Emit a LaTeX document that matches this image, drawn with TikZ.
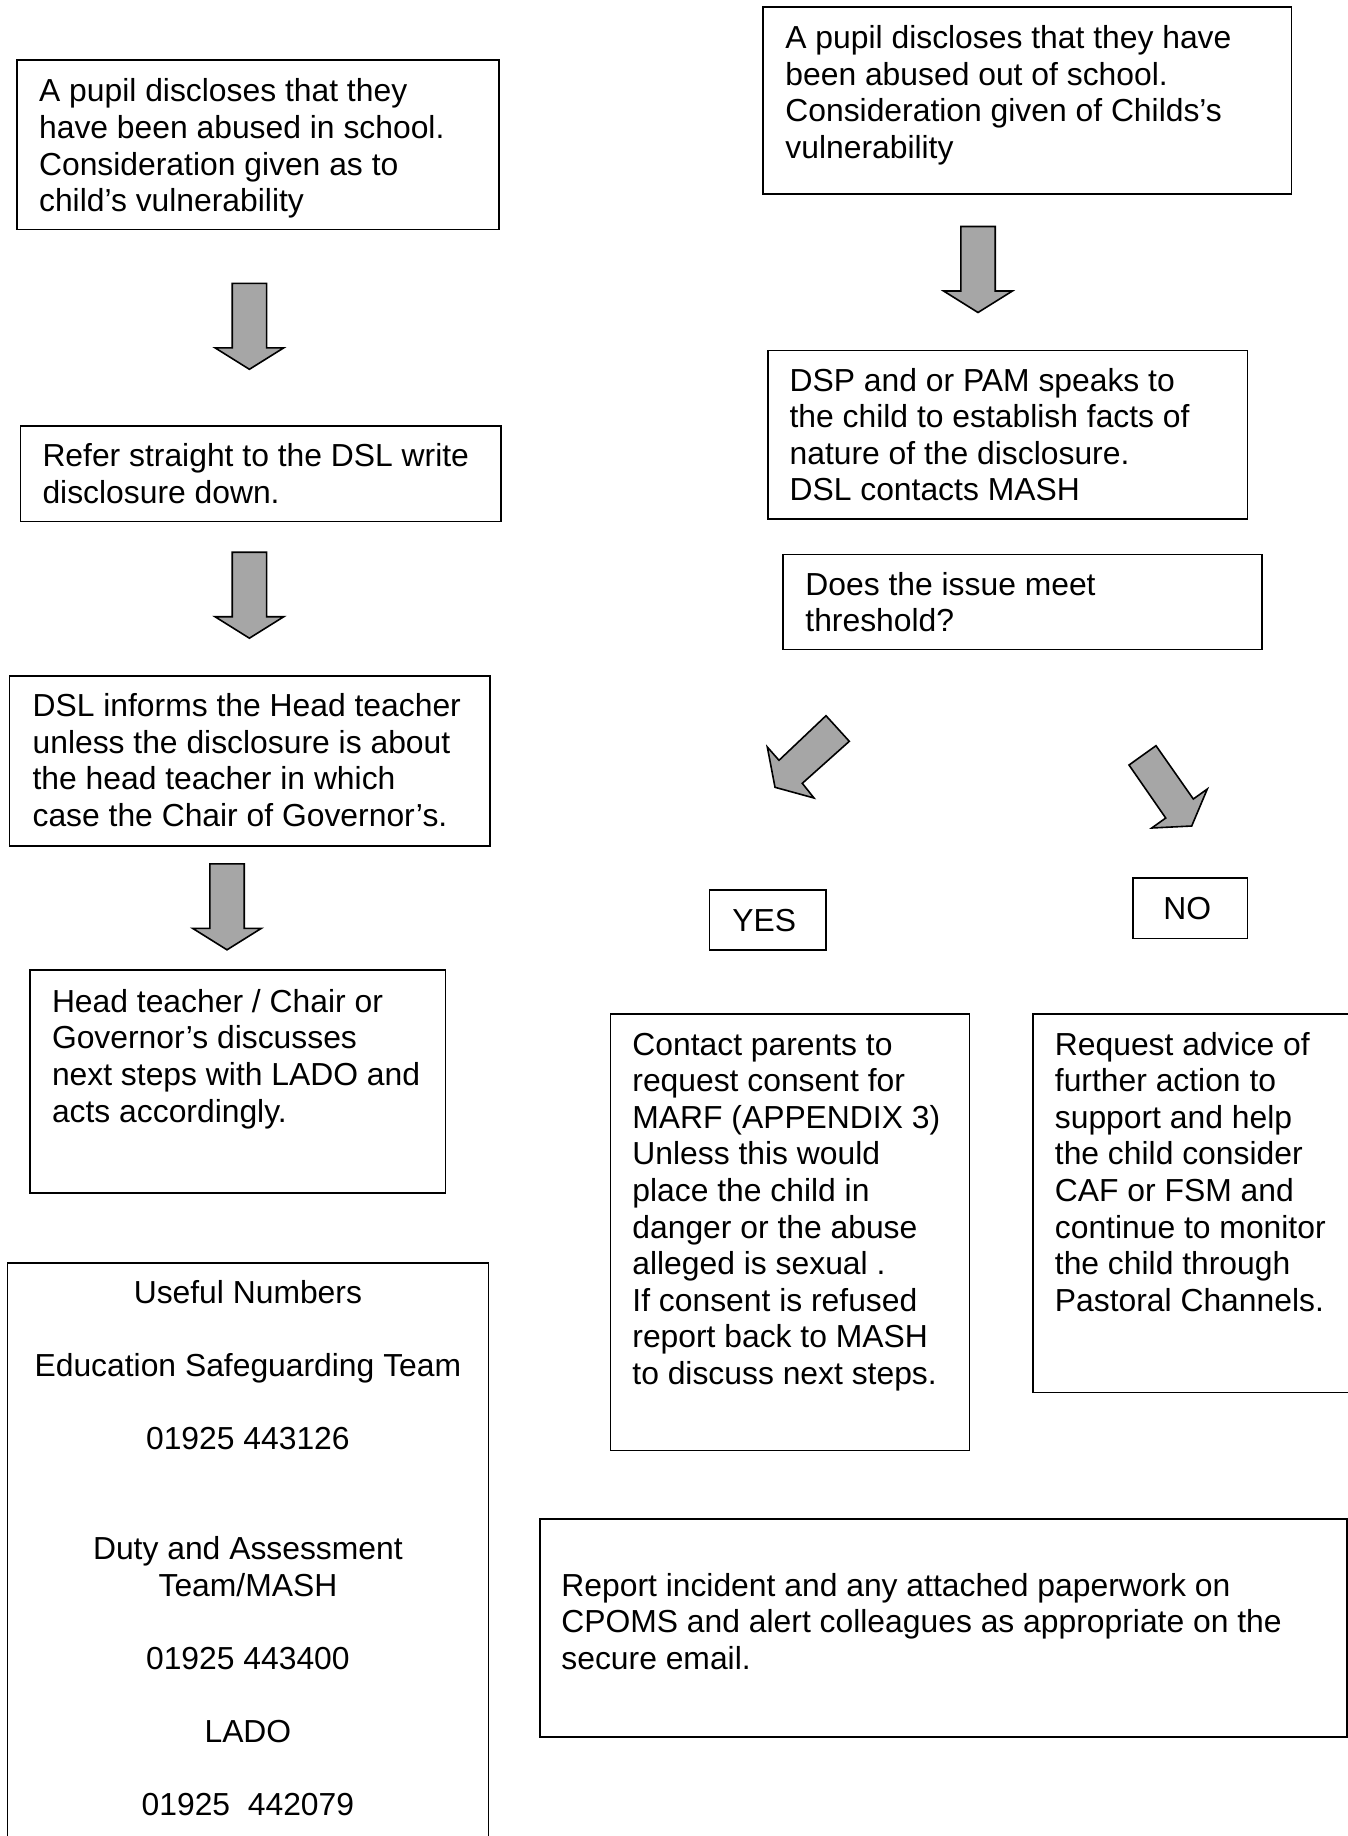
\documentclass[tikz,border=0pt]{standalone}
\usepackage{fontspec}
\setmainfont{Liberation Sans}
\usetikzlibrary{fit}
\definecolor{arrowgray}{RGB}{166,166,166}
\tikzset{
  box/.style={draw=black, line width=0.8pt, inner sep=0pt},
  txt/.style={anchor=north west, inner sep=0pt, align=left, font=\fontsize{15.92pt}{18.3pt}\selectfont},
  ctxt/.style={anchor=north, inner sep=0pt, align=center, font=\fontsize{15.92pt}{18.3pt}\selectfont},
  blockarrow/.style={draw=black, line width=0.8pt, fill=arrowgray, line join=miter},
  downarrow/.pic={
    \draw[blockarrow] (0,0) -- (34.4,-21.5) -- (17.2,-21.5) -- (17.2,-86)
      -- (-17.2,-86) -- (-17.2,-21.5) -- (-34.4,-21.5) -- cycle;
  }
}
\begin{document}
\begin{tikzpicture}[x=0.5pt,y=-0.5pt]
\useasboundingbox (0,0) rectangle (1348,1836);
\clip (0,0) rectangle (1348,1836);

% ---------- left column ----------
\node[box, fit={(17.2,60.1) (498.7,229.6)}] (b1) {};
\node[txt] (t1) at (38.7,75.8) {\strut A pupil discloses that they\\have been abused in school.\\Consideration given as to\\child’s vulnerability};

\pic (a1) at (249.4,369.3) {downarrow};

\node[box, fit={(20.6,426) (500.9,521.6)}] (b2) {};
\node[txt] (t2) at (42.1,440.4) {\strut Refer straight to the DSL write\\disclosure down.};

\pic (a2) at (249.4,638.2) {downarrow};

\node[box, fit={(9.5,676.2) (490.1,845.8)}] (b3) {};
\node[txt] (t3) at (32.2,690.7) {\strut DSL informs the Head teacher\\unless the disclosure is about\\the head teacher in which\\case the Chair of Governor’s.};

\pic (a3) at (227,949.8) {downarrow};

\node[box, fit={(30.1,969.9) (445.4,1192.7)}] (b4) {};
\node[txt] (t4) at (51.6,986.3) {\strut Head teacher / Chair or\\Governor’s discusses\\next steps with LADO and\\acts accordingly.};

\node[box, fit={(7.3,1262.8) (488.4,1900)}] (b5) {};
\node[ctxt] (t5) at (247.9,1277.4) {\strut Useful Numbers\\[18.3pt]Education Safeguarding Team\\[18.3pt]01925 443126\\[36.6pt]Duty and Assessment\\Team/MASH\\[18.3pt]01925 443400\\[18.3pt]LADO\\[18.3pt]01925\ \ 442079};

% ---------- right column ----------
\node[box, fit={(763,6.7) (1291.4,194.2)}] (r1) {};
\node[txt] (s1) at (785,22.6) {\strut A pupil discloses that they have\\been abused out of school.\\Consideration given of Childs’s\\vulnerability};

\pic (ar1) at (978,312.5) {downarrow};

\node[box, fit={(767.7,350.4) (1247.5,519.2)}] (r2) {};
\node[txt] (s2) at (789.2,365) {\strut DSP and or PAM speaks to\\the child to establish facts of\\nature of the disclosure.\\DSL contacts MASH};

\node[box, fit={(783.2,554.5) (1262.1,649.6)}] (r3) {};
\node[txt] (s3) at (805,569) {\strut Does the issue meet\\threshold?};

% diagonal block arrows
\draw[blockarrow] (826,715.7) -- (849.3,741.3) -- (802.3,783.3) -- (814,798)
  -- (775,787.3) -- (767.3,747) -- (779,760.3) -- cycle;
\draw[blockarrow] (1129,765) -- (1156,745.7) -- (1193.3,799) -- (1207.3,789)
  -- (1191.7,826) -- (1151.7,828) -- (1165.7,818) -- cycle;

\node[box, fit={(709.3,889.8) (826.2,950)}] (yes) {};
\node[txt] (yest) at (732,905) {\strut YES};

\node[box, fit={(1132.7,878) (1247.5,938.3)}] (no) {};
\node[txt] (not) at (1163,893.8) {\strut NO};

\node[box, fit={(610.5,1013.8) (969.6,1450.3)}] (yc) {};
\node[txt] (yct) at (632,1029) {\strut Contact parents to\\request consent for\\MARF (APPENDIX 3)\\Unless this would\\place the child in\\danger or the abuse\\alleged is sexual .\\If consent is refused\\report back to MASH\\to discuss next steps.};

\node[box, fit={(1033.2,1013.8) (1400,1392.3)}] (nc) {};
\node[txt] (nct) at (1054.5,1029) {\strut Request advice of\\further action to\\support and help\\the child consider\\CAF or FSM and\\continue to monitor\\the child through\\Pastoral Channels.};

\node[box, fit={(540,1519) (1346.7,1736.8)}] (bt) {};
\node[txt] (btt) at (561,1570.1) {\strut Report incident and any attached paperwork on\\CPOMS and alert colleagues as appropriate on the\\secure email.};
\end{tikzpicture}
\end{document}
